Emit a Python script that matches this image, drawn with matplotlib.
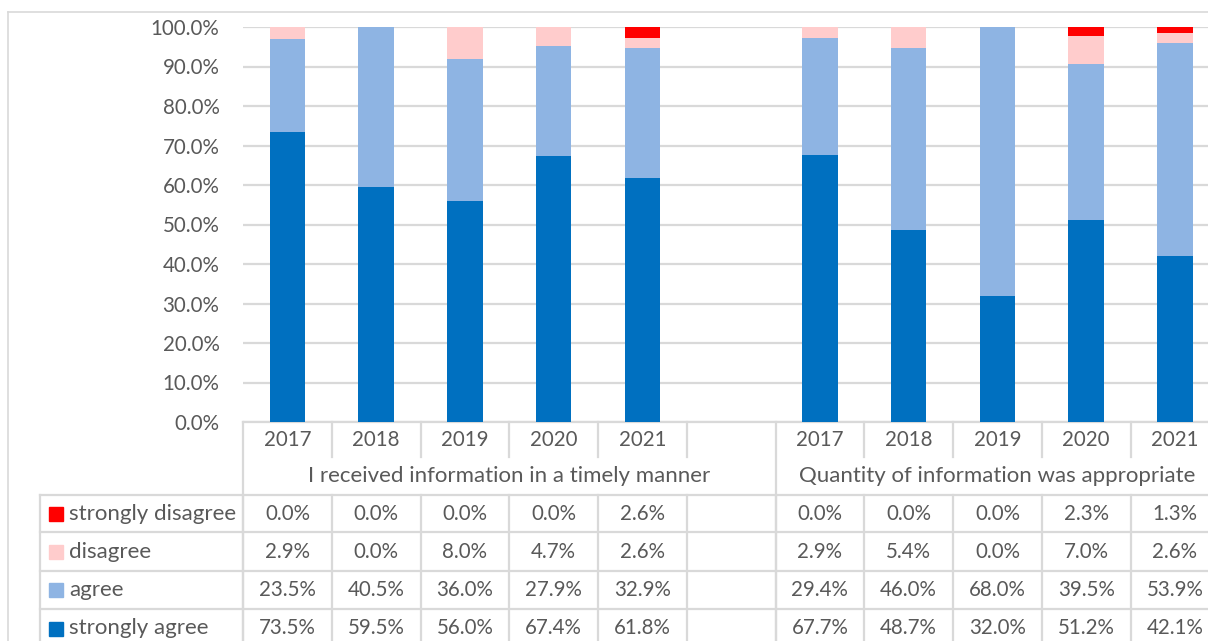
import matplotlib
matplotlib.use("Agg")
import matplotlib.pyplot as plt
import numpy as np
from matplotlib.transforms import blended_transform_factory
from matplotlib.patches import Rectangle

# ---- data ----
years = ["2017", "2018", "2019", "2020", "2021"]
groups = ["I received information in a timely manner",
          "Quantity of information was appropriate"]
series_names = ["strongly disagree", "disagree", "agree", "strongly agree"]
colors = ["#FF0000", "#FFCCCC", "#8EB4E3", "#0070C0"]

timely_strongly_disagree = [0.0, 0.0, 0.0, 0.0, 2.6]
timely_disagree = [2.9, 0.0, 8.0, 4.7, 2.6]
timely_agree = [23.5, 40.5, 36.0, 27.9, 32.9]
timely_strongly_agree = [73.5, 59.5, 56.0, 67.4, 61.8]

quantity_strongly_disagree = [0.0, 0.0, 0.0, 2.3, 1.3]
quantity_disagree = [2.9, 5.4, 0.0, 7.0, 2.6]
quantity_agree = [29.4, 46.0, 68.0, 39.5, 53.9]
quantity_strongly_agree = [67.7, 48.7, 32.0, 51.2, 42.1]

timely = [timely_strongly_disagree, timely_disagree, timely_agree, timely_strongly_agree]
quantity = [quantity_strongly_disagree, quantity_disagree, quantity_agree, quantity_strongly_agree]

# ---- layout ----
W, H = 1208, 641
DPI = 100
TXT = "#595959"
GRID = "#D9D9D9"
FONT = "Lato"
FS_NUM = 14.8
FS_TXT = 16

plt.rcParams["font.family"] = [FONT, "DejaVu Sans"]

fig = plt.figure(figsize=(W / DPI, H / DPI), dpi=DPI)
fig.patch.set_facecolor("white")

ov = fig.add_axes([0, 0, 1, 1], zorder=0)
ov.set_xlim(0, W)
ov.set_ylim(H, 0)
ov.axis("off")

slot = 88.75
ax_left, ax_top, ax_bottom = 243, 27, 422
nslots = 11
ax = fig.add_axes([ax_left / W, (H - ax_bottom) / H, nslots * slot / W, (ax_bottom - ax_top) / H], zorder=1)
ax.patch.set_alpha(0)
ax.set_xlim(-0.5, nslots - 0.5)
ax.set_ylim(0, 1)
for s in ax.spines.values():
    s.set_visible(False)

# x positions: group 1 slots 0..4, empty slot 5, group 2 slots 6..10
x1 = np.arange(len(years))
x2 = np.arange(len(years)) + len(years) + 1

# bars (stack from bottom: strongly agree, agree, disagree, strongly disagree)
bw = 0.40
for xs, data in ((x1, timely), (x2, quantity)):
    bottom = np.zeros(len(xs))
    for i in (3, 2, 1, 0):
        vals = np.array(data[i]) / 100.0
        ax.bar(xs, vals, bw, bottom=bottom, color=colors[i], linewidth=0, zorder=3)
        bottom += vals

# y axis
ticks = np.arange(0, 1.01, 0.1)
ax.set_yticks(ticks)
ax.set_yticklabels([f"{v*100:.1f}%" for v in ticks], fontsize=FS_NUM, color=TXT)
ax.tick_params(axis="y", length=0, pad=17)
ax.set_xticks([])
ax.yaxis.grid(True, color=GRID, linewidth=1.6, zorder=0)
ax.set_axisbelow(True)

# ---- data table ----
tr = blended_transform_factory(ax.transData, ov.transData)
lc = GRID
lw = 1.6
right = nslots - 0.5
table_left_px = 40
y_year_top, y_year_bot = 422, 457
y_rows = [495, 532, 571, 609, 648]

ov.plot([0, 1], [y_year_top, y_year_top], transform=blended_transform_factory(ax.transAxes, ov.transData),
        color=lc, lw=lw, clip_on=False, zorder=2)
for b in np.arange(-0.5, right + 0.01, 1.0):
    ybot = y_rows[-1] if b in (-0.5, 5.5) else y_year_bot
    ov.plot([b, b], [y_year_top, ybot], transform=tr, color=lc, lw=lw, clip_on=False, zorder=2)
    ov.plot([b, b], [y_rows[0], y_rows[-1]], transform=tr, color=lc, lw=lw, clip_on=False, zorder=2)

for y in y_rows[:-1]:
    ov.plot([table_left_px, W + 20], [y, y], color=lc, lw=lw, clip_on=False, zorder=2)
ov.plot([table_left_px, table_left_px], [y_rows[0], y_rows[-1]], color=lc, lw=lw, zorder=2)

for xs in (x1, x2):
    for x, yr in zip(xs, years):
        ov.text(x, (y_year_top + y_year_bot) / 2 + 1, yr, transform=tr, ha="center", va="center",
                fontsize=FS_NUM, color=TXT)
ov.text(np.mean(np.append(x1, 5)), (y_year_bot + y_rows[0]) / 2, groups[0], transform=tr,
        ha="center", va="center", fontsize=FS_TXT, color=TXT)
ov.text(np.mean(x2), (y_year_bot + y_rows[0]) / 2, groups[1], transform=tr,
        ha="center", va="center", fontsize=FS_TXT, color=TXT)

for r in range(4):
    yc = (y_rows[r] + y_rows[r + 1]) / 2
    ov.add_patch(Rectangle((49, yc - 7), 14, 14, color=colors[r], zorder=3))
    ov.text(69, yc, series_names[r], ha="left", va="center", fontsize=FS_TXT, color=TXT)
    for xs, data in ((x1, timely), (x2, quantity)):
        for x, v in zip(xs, data[r]):
            ov.text(x, yc, f"{v:.1f}%", transform=tr, ha="center", va="center", fontsize=FS_NUM, color=TXT)

# outer chart border
ov.plot([8, W + 10], [12, 12], color=GRID, lw=1.2, zorder=2)
ov.plot([8, 8], [12, H + 10], color=GRID, lw=1.2, zorder=2)

fig.savefig("out.png", dpi=DPI)
